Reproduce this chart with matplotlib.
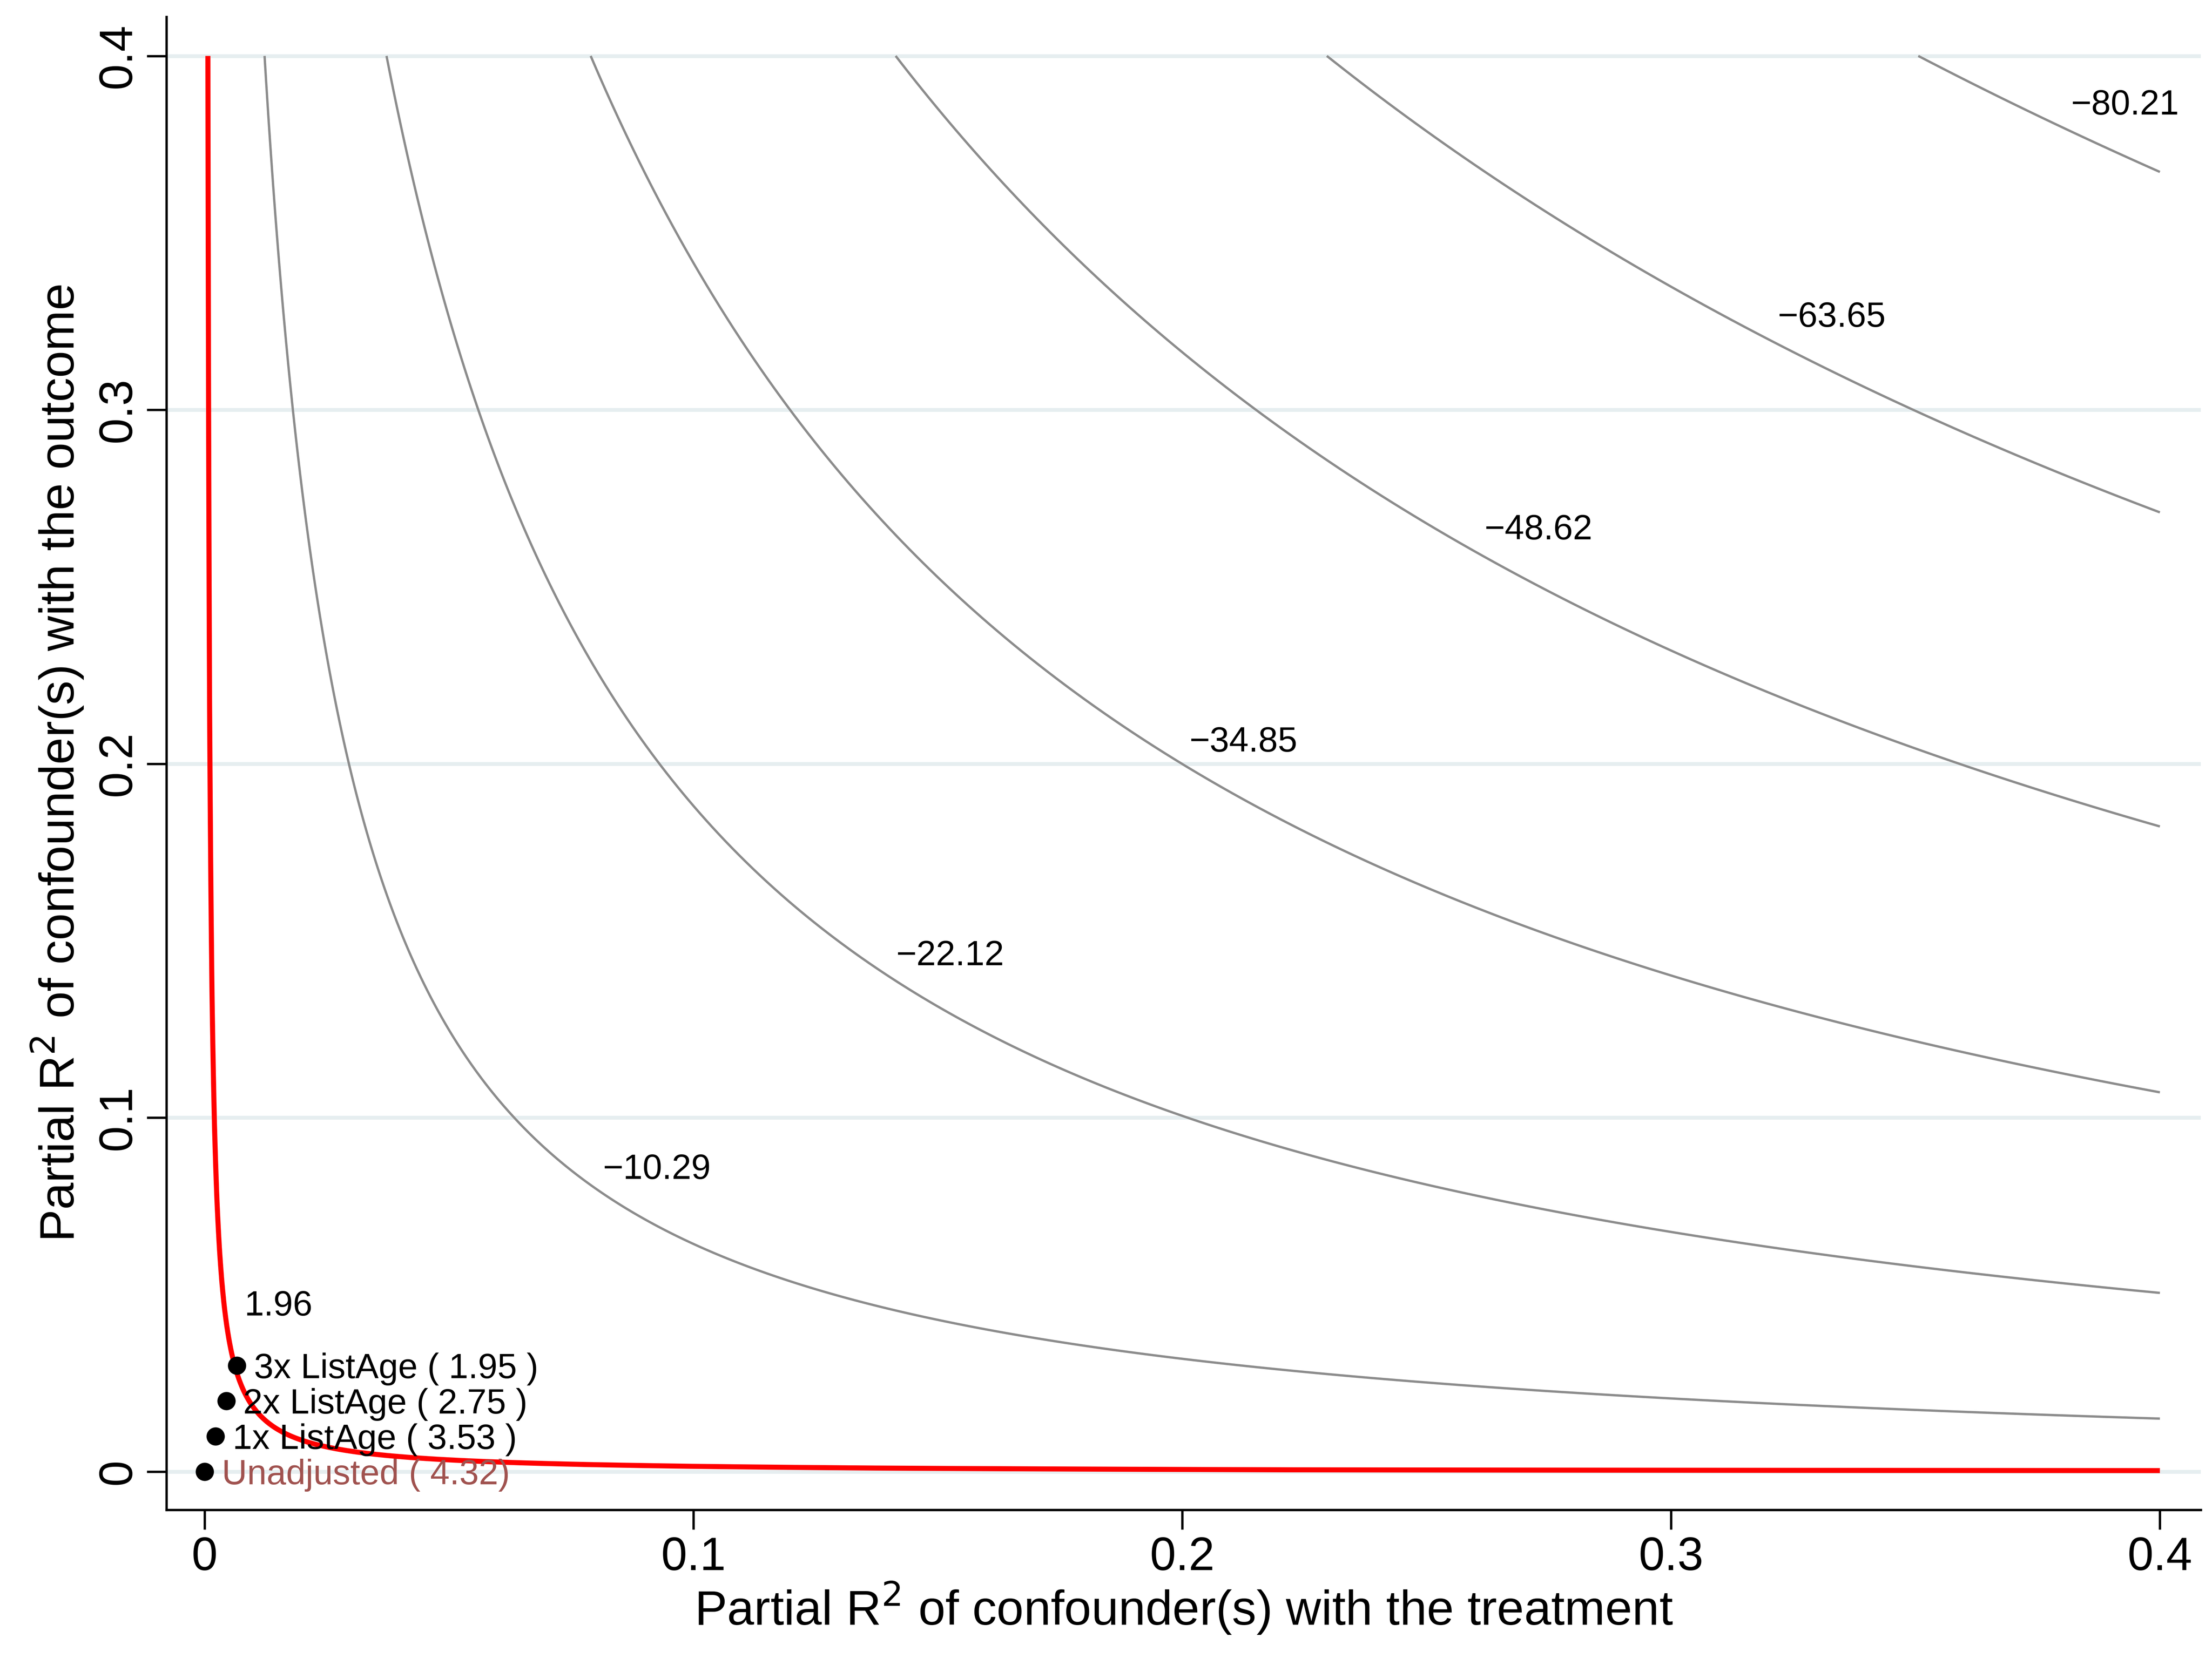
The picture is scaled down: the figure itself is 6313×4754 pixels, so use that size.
import numpy as np
import matplotlib.pyplot as plt

plt.rcParams['font.family'] = 'Liberation Sans'

# values
t_unadj = 4.32
dof = 30700
levels_grey = [-80.21, -63.65, -48.62, -34.85, -22.12, -10.29]
level_red = 1.96
label_pos = [(0.3818, 0.386), (0.3218, 0.326), (0.2618, 0.266), (0.2014, 0.206),
             (0.1414, 0.1456), (0.0814, 0.0853)]
bench_names = ['Unadjusted', '1x ListAge', '2x ListAge', '3x ListAge']
bench_x = [0.0, 0.0022, 0.0044, 0.0066]
bench_y = [0.0, 0.01, 0.02, 0.03]
bench_t = [4.32, 3.53, 2.75, 1.95]
ticks = [0, 0.1, 0.2, 0.3, 0.4]
tick_labels = ['0', '0.1', '0.2', '0.3', '0.4']

# adjusted t-value surface (sensemakr formula)
r2d = np.linspace(0.0, 0.4, 800)
r2y = np.linspace(0.0, 0.4, 800)
D, Y = np.meshgrid(r2d, r2y)
bias = np.sqrt(dof) * np.sqrt(Y * D / (1 - D))
se_f = np.sqrt((1 - Y) / (1 - D)) * np.sqrt(dof / (dof - 1))
T = (t_unadj - bias) / se_f

fig = plt.figure(figsize=(6313 / 400, 4754 / 400), dpi=400)
ax = fig.add_axes([0.0753, 0.0932, 0.9197, 0.8966])

for v in ticks:
    ax.axhline(v, color='#e6eef0', lw=2.0, zorder=0)

ax.contour(D, Y, T, levels=levels_grey, colors='#8c8c8c', linewidths=1.2,
           linestyles='solid')
ax.contour(D, Y, T, levels=[level_red], colors='red', linewidths=2.6,
           linestyles='solid')

for lv, (px, py) in zip(levels_grey, label_pos):
    ax.text(px, py, '\u2212%.2f' % abs(lv), fontsize=18, ha='left', va='center')
ax.text(0.0081, 0.0467, '1.96', fontsize=18, ha='left', va='center')

ax.scatter(bench_x, bench_y, s=70, color='black', zorder=5)
for i, (n, bx, by, bt) in enumerate(zip(bench_names, bench_x, bench_y, bench_t)):
    col = '#a0524f' if i == 0 else 'black'
    txt = '%s ( %.2f)' % (n, bt) if i == 0 else '%s ( %.2f )' % (n, bt)
    ax.text(bx + 0.0035, by - 0.001, txt, fontsize=18, color=col,
            ha='left', va='center', zorder=6)

ax.set_xlim(-0.0078, 0.4084)
ax.set_ylim(-0.0108, 0.411)
ax.set_xticks(ticks)
ax.set_xticklabels(tick_labels)
ax.set_yticks(ticks)
ax.set_yticklabels(tick_labels, rotation=90, va='center')
ax.tick_params(labelsize=24, length=10, width=1.2)
for s in ['top', 'right']:
    ax.spines[s].set_visible(False)
ax.spines['left'].set_linewidth(1.2)
ax.spines['bottom'].set_linewidth(1.2)

ax.set_xlabel('Partial R$^2$ of confounder(s) with the treatment', fontsize=25, labelpad=0)
ax.set_ylabel('Partial R$^2$ of confounder(s) with the outcome', fontsize=25, labelpad=6)

fig.savefig('out.png', dpi=400)
